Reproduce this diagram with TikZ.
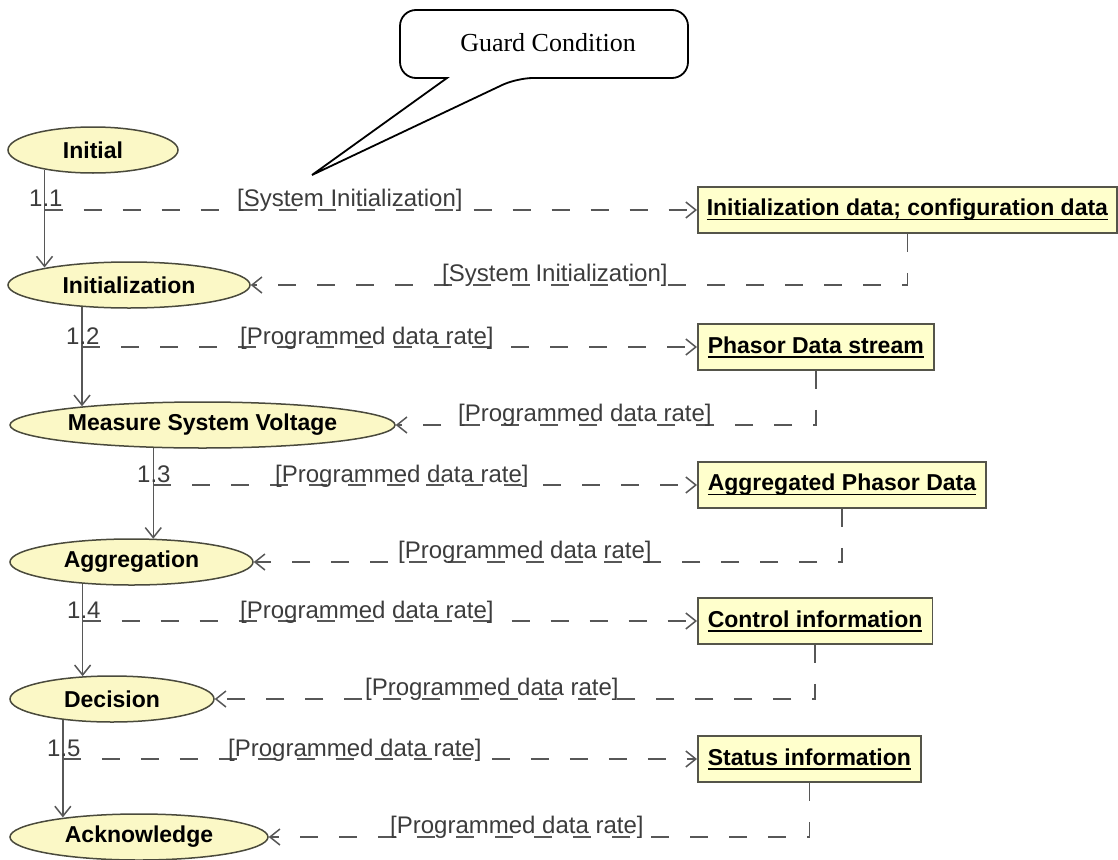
\documentclass[tikz,border=0pt]{standalone}
\usepackage{fontspec}
\setmainfont{Liberation Sans}
\newfontfamily\calloutfont{Liberation Serif}
\usetikzlibrary{shapes.geometric,arrows.meta}

\definecolor{stfill}{HTML}{FBF8C6}
\definecolor{stdraw}{HTML}{4A4A3C}
\definecolor{objfill}{HTML}{FFFFCC}
\definecolor{objdraw}{HTML}{55554A}
\definecolor{wire}{HTML}{575757}
\definecolor{guardtxt}{HTML}{3C3C3C}

% underlined object name, with a rule thick enough for the large type
\newsavebox\objnamebox
\newcommand\objtitle[1]{\sbox\objnamebox{#1}\rlap{\rule[-4.5pt]{\wd\objnamebox}{1.8pt}}\usebox\objnamebox}

\tikzset{
  state/.style={ellipse, draw=stdraw, fill=stfill, line width=1.5pt,
    minimum height=46pt, inner sep=0pt,
    font=\fontsize{23}{27}\selectfont\bfseries},
  objbox/.style={rectangle, draw=objdraw, fill=objfill, line width=1.5pt,
    minimum height=46pt, inner xsep=10pt, inner ysep=0pt, anchor=west,
    font=\fontsize{23}{27}\selectfont\bfseries},
  flow/.style={draw=wire, line width=1.5pt,
    -{Straight Barb[length=10pt,width=16pt]}},
  dep/.style={flow, dash pattern=on 18pt off 21pt},
  guard/.style={text=guardtxt, font=\fontsize{24}{28}\selectfont,
    inner sep=0pt, anchor=base west},
  seqno/.style={guard}
}

\begin{document}
\begin{tikzpicture}[x=1pt,y=-1pt]
\useasboundingbox (0,0) rectangle (1118,859);

% callout
\node[font=\calloutfont\fontsize{26}{30}\selectfont, inner sep=0pt] (gc) at (548,43) {Guard Condition};
\draw[line width=1.8pt, fill=white] (447,78) [rounded corners=16pt] -- (400,78) -- (400,10)
  -- (688,10) -- (688,78) -- (517,78) [sharp corners] -- (312,175) -- cycle;
\node[font=\calloutfont\fontsize{26}{30}\selectfont, inner sep=0pt] at (gc) {Guard Condition};

% states
\node[state, minimum width=170pt] (s1) at (93,150)    {Initial};
\node[state, minimum width=242pt] (s2) at (129,285)   {Initialization};
\node[state, minimum width=385pt] (s3) at (202.5,425) {Measure System Voltage};
\node[state, minimum width=243pt] (s4) at (131.5,562) {Aggregation};
\node[state, minimum width=204pt] (s5) at (112,699)   {Decision};
\node[state, minimum width=258pt] (s6) at (139,837)   {Acknowledge};

% objects
\node[objbox, inner xsep=9pt] (b1) at (697,210) {\objtitle{Initialization data; configuration data}};
\node[objbox] (b2) at (697,347) {\objtitle{Phasor Data stream}};
\node[objbox] (b3) at (697,485) {\objtitle{Aggregated Phasor Data}};
\node[objbox] (b4) at (697,621) {\objtitle{Control information}};
\node[objbox] (b5) at (697,759) {\objtitle{Status information}};

% control flow between states
\draw[flow] (s1.202.8)  -- (s1.202.8  |- s2.168.3);
\draw[flow] (s2.205.38) -- (s2.205.38 |- s3.171.3);
\draw[flow] (s3.205.13) -- (s3.205.13 |- s4.43.85);
\draw[flow] (s4.204.02) -- (s4.204.02 |- s5.141.69);
\draw[flow] (s5.203.47) -- (s5.203.47 |- s6.165.72);

% object flows out of each step
\draw[dep] (s1.202.8  |- b1.west) -- (b1.west);
\draw[dep] (s2.205.38 |- b2.west) -- (b2.west);
\draw[dep] (s3.205.13 |- b3.west) -- (b3.west);
\draw[dep] (s4.204.02 |- b4.west) -- (b4.west);
\draw[dep] (s5.203.47 |- b5.west) -- (b5.west);

% object flows back into the next state
\draw[dep] (b1.south) |- (s2.east);
\draw[dep] (b2.south) |- (s3.east);
\draw[dep] (b3.south) |- (s4.east);
\draw[dep] (b4.south) |- (s5.east);
\draw[dep] (b5.south) |- (s6.east);

% sequence numbers
\node[seqno] (n1) at (29,206)  {1.1};
\node[seqno] (n2) at (66,344)  {1.2};
\node[seqno] (n3) at (137,482) {1.3};
\node[seqno] (n4) at (67,618)  {1.4};
\node[seqno] (n5) at (47,756)  {1.5};

% guards
\node[guard] (g1a) at (237,206) {[System Initialization]};
\node[guard] (g1b) at (442,281) {[System Initialization]};
\node[guard] (g2a) at (240,344) {[Programmed data rate]};
\node[guard] (g2b) at (458,421) {[Programmed data rate]};
\node[guard] (g3a) at (275,482) {[Programmed data rate]};
\node[guard] (g3b) at (398,558) {[Programmed data rate]};
\node[guard] (g4a) at (240,618) {[Programmed data rate]};
\node[guard] (g4b) at (365,695) {[Programmed data rate]};
\node[guard] (g5a) at (228,756) {[Programmed data rate]};
\node[guard] (g5b) at (390,833) {[Programmed data rate]};
\end{tikzpicture}
\end{document}
